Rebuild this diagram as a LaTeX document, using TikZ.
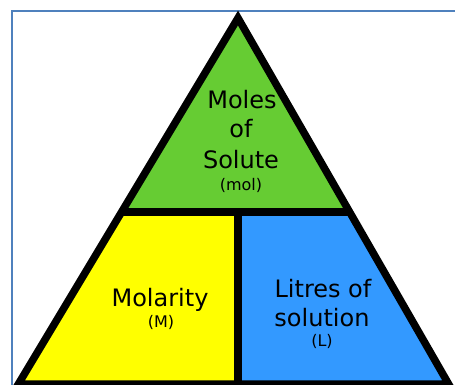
\documentclass[tikz,border=0pt]{standalone}
\usepackage{fontspec}
\setmainfont{DejaVu Sans}
\definecolor{framecol}{RGB}{79,129,189}
\definecolor{topgreen}{RGB}{102,204,51}
\definecolor{leftyellow}{RGB}{255,255,0}
\definecolor{rightblue}{RGB}{51,153,255}
\tikzset{
  outline/.style={draw=black, line width=7.5pt, line join=miter},
  bigtext/.style={anchor=base, inner sep=0pt, font=\fontsize{24}{28}\selectfont},
  smalltext/.style={anchor=base, inner sep=0pt, font=\fontsize{16}{19}\selectfont},
  frameline/.style={draw=framecol, line width=2.5pt}
}
\begin{document}
\begin{tikzpicture}[x=1pt,y=-1pt]
\useasboundingbox (0,0) rectangle (455,385);
\clip (0,0) rectangle (455,385);
\fill[white] (0,0) rectangle (455,385);
% frame
\draw[frameline] (456,11) -- (12,11) -- (12,386);
% corner coordinates
\coordinate (apex) at (238,18);
\coordinate (ml) at (122,212);
\coordinate (mm) at (238,212);
\coordinate (mr) at (350,212);
\coordinate (bl) at (18.4,384);
\coordinate (bm) at (238,384);
\coordinate (br) at (448.6,384);
% fills
\fill[topgreen] (apex) -- (mr) -- (ml) -- cycle;
\fill[leftyellow] (ml) -- (mm) -- (bm) -- (bl) -- cycle;
\fill[rightblue] (mm) -- (mr) -- (br) -- (bm) -- cycle;
% outlines
\draw[outline] (apex) -- (br) -- (bl) -- cycle;
\draw[outline] (ml) -- (mr);
\draw[outline] (mm) -- (bm);
% texts
\node[bigtext] (t1) at (242,109) {Moles};
\node[bigtext] (t2) at (241,138) {of};
\node[bigtext] (t3) at (241,168) {Solute};
\node[smalltext] (t4) at (241,190) {(mol)};
\node[bigtext] (l1) at (160,306) {Molarity};
\node[smalltext] (l2) at (161,327) {(M)};
\node[bigtext] (r1) at (323,297) {Litres of};
\node[bigtext] (r2) at (322,326) {solution};
\node[smalltext] (r3) at (322,346) {(L)};
\end{tikzpicture}
\end{document}
